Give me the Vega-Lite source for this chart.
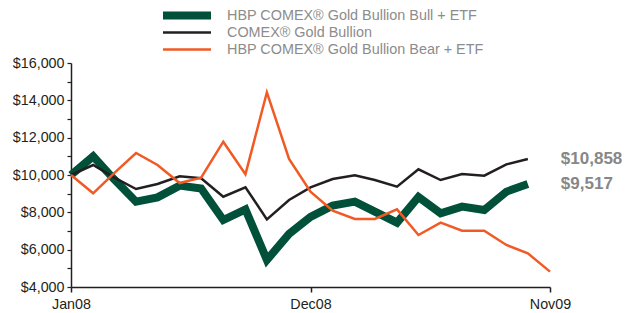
{
  "$schema": "https://vega.github.io/schema/vega-lite/v6.json",
  "width": 479,
  "height": 224,
  "autosize": {"type": "none"},
  "padding": {"left": 71, "top": 63, "right": 76, "bottom": 26},
  "background": "white",
  "config": {
    "view": {"stroke": null},
    "font": "Liberation Sans"
  },
  "data": {
    "values": [
      {"series": "HBP COMEX® Gold Bullion Bull + ETF", "date": "2008-01-01", "value": 10000},
      {"series": "HBP COMEX® Gold Bullion Bull + ETF", "date": "2008-02-01", "value": 11000},
      {"series": "HBP COMEX® Gold Bullion Bull + ETF", "date": "2008-03-01", "value": 9780},
      {"series": "HBP COMEX® Gold Bullion Bull + ETF", "date": "2008-04-01", "value": 8570},
      {"series": "HBP COMEX® Gold Bullion Bull + ETF", "date": "2008-05-01", "value": 8800},
      {"series": "HBP COMEX® Gold Bullion Bull + ETF", "date": "2008-06-01", "value": 9430},
      {"series": "HBP COMEX® Gold Bullion Bull + ETF", "date": "2008-07-01", "value": 9280},
      {"series": "HBP COMEX® Gold Bullion Bull + ETF", "date": "2008-08-01", "value": 7590},
      {"series": "HBP COMEX® Gold Bullion Bull + ETF", "date": "2008-09-01", "value": 8160},
      {"series": "HBP COMEX® Gold Bullion Bull + ETF", "date": "2008-10-01", "value": 5450},
      {"series": "HBP COMEX® Gold Bullion Bull + ETF", "date": "2008-11-01", "value": 6840},
      {"series": "HBP COMEX® Gold Bullion Bull + ETF", "date": "2008-12-01", "value": 7760},
      {"series": "HBP COMEX® Gold Bullion Bull + ETF", "date": "2009-01-01", "value": 8357},
      {"series": "HBP COMEX® Gold Bullion Bull + ETF", "date": "2009-02-01", "value": 8571},
      {"series": "HBP COMEX® Gold Bullion Bull + ETF", "date": "2009-03-01", "value": 8036},
      {"series": "HBP COMEX® Gold Bullion Bull + ETF", "date": "2009-04-01", "value": 7446},
      {"series": "HBP COMEX® Gold Bullion Bull + ETF", "date": "2009-05-01", "value": 8820},
      {"series": "HBP COMEX® Gold Bullion Bull + ETF", "date": "2009-06-01", "value": 7946},
      {"series": "HBP COMEX® Gold Bullion Bull + ETF", "date": "2009-07-01", "value": 8304},
      {"series": "HBP COMEX® Gold Bullion Bull + ETF", "date": "2009-08-01", "value": 8125},
      {"series": "HBP COMEX® Gold Bullion Bull + ETF", "date": "2009-09-01", "value": 9107},
      {"series": "HBP COMEX® Gold Bullion Bull + ETF", "date": "2009-10-01", "value": 9517},
      {"series": "COMEX® Gold Bullion", "date": "2008-01-01", "value": 10000},
      {"series": "COMEX® Gold Bullion", "date": "2008-02-01", "value": 10536},
      {"series": "COMEX® Gold Bullion", "date": "2008-03-01", "value": 9875},
      {"series": "COMEX® Gold Bullion", "date": "2008-04-01", "value": 9250},
      {"series": "COMEX® Gold Bullion", "date": "2008-05-01", "value": 9518},
      {"series": "COMEX® Gold Bullion", "date": "2008-06-01", "value": 9930},
      {"series": "COMEX® Gold Bullion", "date": "2008-07-01", "value": 9823},
      {"series": "COMEX® Gold Bullion", "date": "2008-08-01", "value": 8837},
      {"series": "COMEX® Gold Bullion", "date": "2008-09-01", "value": 9340},
      {"series": "COMEX® Gold Bullion", "date": "2008-10-01", "value": 7625},
      {"series": "COMEX® Gold Bullion", "date": "2008-11-01", "value": 8661},
      {"series": "COMEX® Gold Bullion", "date": "2008-12-01", "value": 9340},
      {"series": "COMEX® Gold Bullion", "date": "2009-01-01", "value": 9786},
      {"series": "COMEX® Gold Bullion", "date": "2009-02-01", "value": 9982},
      {"series": "COMEX® Gold Bullion", "date": "2009-03-01", "value": 9732},
      {"series": "COMEX® Gold Bullion", "date": "2009-04-01", "value": 9375},
      {"series": "COMEX® Gold Bullion", "date": "2009-05-01", "value": 10304},
      {"series": "COMEX® Gold Bullion", "date": "2009-06-01", "value": 9732},
      {"series": "COMEX® Gold Bullion", "date": "2009-07-01", "value": 10054},
      {"series": "COMEX® Gold Bullion", "date": "2009-08-01", "value": 9964},
      {"series": "COMEX® Gold Bullion", "date": "2009-09-01", "value": 10571},
      {"series": "COMEX® Gold Bullion", "date": "2009-10-01", "value": 10858},
      {"series": "HBP COMEX® Gold Bullion Bear + ETF", "date": "2008-01-01", "value": 10000},
      {"series": "HBP COMEX® Gold Bullion Bear + ETF", "date": "2008-02-01", "value": 9018},
      {"series": "HBP COMEX® Gold Bullion Bear + ETF", "date": "2008-03-01", "value": 10090},
      {"series": "HBP COMEX® Gold Bullion Bear + ETF", "date": "2008-04-01", "value": 11180},
      {"series": "HBP COMEX® Gold Bullion Bear + ETF", "date": "2008-05-01", "value": 10540},
      {"series": "HBP COMEX® Gold Bullion Bear + ETF", "date": "2008-06-01", "value": 9570},
      {"series": "HBP COMEX® Gold Bullion Bear + ETF", "date": "2008-07-01", "value": 9856},
      {"series": "HBP COMEX® Gold Bullion Bear + ETF", "date": "2008-08-01", "value": 11784},
      {"series": "HBP COMEX® Gold Bullion Bear + ETF", "date": "2008-09-01", "value": 10037},
      {"series": "HBP COMEX® Gold Bullion Bear + ETF", "date": "2008-10-01", "value": 14430},
      {"series": "HBP COMEX® Gold Bullion Bear + ETF", "date": "2008-11-01", "value": 10857},
      {"series": "HBP COMEX® Gold Bullion Bear + ETF", "date": "2008-12-01", "value": 9107},
      {"series": "HBP COMEX® Gold Bullion Bear + ETF", "date": "2009-01-01", "value": 8089},
      {"series": "HBP COMEX® Gold Bullion Bear + ETF", "date": "2009-02-01", "value": 7643},
      {"series": "HBP COMEX® Gold Bullion Bear + ETF", "date": "2009-03-01", "value": 7643},
      {"series": "HBP COMEX® Gold Bullion Bear + ETF", "date": "2009-04-01", "value": 8160},
      {"series": "HBP COMEX® Gold Bullion Bear + ETF", "date": "2009-05-01", "value": 6786},
      {"series": "HBP COMEX® Gold Bullion Bear + ETF", "date": "2009-06-01", "value": 7446},
      {"series": "HBP COMEX® Gold Bullion Bear + ETF", "date": "2009-07-01", "value": 7018},
      {"series": "HBP COMEX® Gold Bullion Bear + ETF", "date": "2009-08-01", "value": 7018},
      {"series": "HBP COMEX® Gold Bullion Bear + ETF", "date": "2009-09-01", "value": 6250},
      {"series": "HBP COMEX® Gold Bullion Bear + ETF", "date": "2009-10-01", "value": 5804},
      {"series": "HBP COMEX® Gold Bullion Bear + ETF", "date": "2009-11-01", "value": 4822}
    ]
  },
  "encoding": {
    "x": {
      "field": "date",
      "type": "temporal",
      "scale": {"type": "utc", "domain": [{"year": 2008, "month": 1, "date": 1, "utc": true}, {"year": 2009, "month": 11, "date": 1, "utc": true}], "nice": false},
      "axis": {
        "title": null,
        "values": [{"year": 2008, "month": 1, "date": 1, "utc": true}, {"year": 2008, "month": 12, "date": 1, "utc": true}, {"year": 2009, "month": 11, "date": 1, "utc": true}],
        "format": "%b%y",
        "labelFlush": false,
        "labelFont": "Liberation Sans",
        "labelFontSize": 14.3,
        "labelColor": "#231f20",
        "labelPadding": 5,
        "domainColor": "#231f20",
        "domainWidth": 1.5,
        "tickColor": "#231f20",
        "tickWidth": 1.5,
        "tickSize": 5,
        "grid": false
      }
    },
    "y": {
      "field": "value",
      "type": "quantitative",
      "scale": {"domain": [4000, 16000], "nice": false, "zero": false},
      "axis": {
        "title": null,
        "values": [4000, 5000, 6000, 7000, 8000, 9000, 10000, 11000, 12000, 13000, 14000, 15000, 16000],
        "labelExpr": "datum.value % 2000 == 0 ? format(datum.value, '$,') : ''",
        "labelFont": "Liberation Sans",
        "labelFontSize": 14.3,
        "labelColor": "#231f20",
        "labelPadding": 3,
        "domainColor": "#231f20",
        "domainWidth": 1.5,
        "tickColor": "#231f20",
        "tickWidth": 1.2,
        "tickSize": 4,
        "grid": false
      }
    }
  },
  "layer": [
    {
      "mark": {"type": "line", "strokeJoin": "miter", "strokeCap": "butt"},
      "encoding": {
        "color": {
          "field": "series",
          "type": "nominal",
          "scale": {
            "domain": ["HBP COMEX® Gold Bullion Bull + ETF", "COMEX® Gold Bullion", "HBP COMEX® Gold Bullion Bear + ETF"],
            "range": ["#00503a", "#231f20", "#f15a24"]
          },
          "legend": {
            "title": null,
            "orient": "none",
            "legendX": 88,
            "legendY": -56,
            "symbolType": "stroke",
            "symbolSize": 2304,
            "symbolStrokeWidth": 2.5,
            "clipHeight": 17,
            "rowPadding": 0,
            "labelOffset": 12,
            "labelFont": "Liberation Sans",
            "labelFontSize": 14.4,
            "labelColor": "#8c8c8c",
            "labelLimit": 400,
            "encode": {
              "symbols": {
                "enter": {
                  "strokeWidth": {"signal": "datum.value == 'HBP COMEX® Gold Bullion Bull + ETF' ? 5 : 2.5"}
                },
                "update": {
                  "strokeWidth": {"signal": "datum.value == 'HBP COMEX® Gold Bullion Bull + ETF' ? 5 : 2.5"}
                }
              }
            }
          }
        },
        "strokeWidth": {
          "field": "series",
          "type": "nominal",
          "scale": {
            "type": "ordinal",
            "domain": ["HBP COMEX® Gold Bullion Bull + ETF", "COMEX® Gold Bullion", "HBP COMEX® Gold Bullion Bear + ETF"],
            "range": [8, 2.5, 2.5]
          },
          "legend": null
        }
      }
    },
    {
      "transform": [
        {"filter": "datum.series != 'HBP COMEX® Gold Bullion Bear + ETF' && time(datum.date) == utc(2009, 9, 1)"}
      ],
      "mark": {"type": "text", "align": "left", "baseline": "middle", "dx": 33, "fontSize": 17, "fontWeight": "bold", "font": "Liberation Sans", "color": "#878787"},
      "encoding": {
        "text": {"field": "value", "type": "quantitative", "format": "$,"}
      }
    }
  ]
}
